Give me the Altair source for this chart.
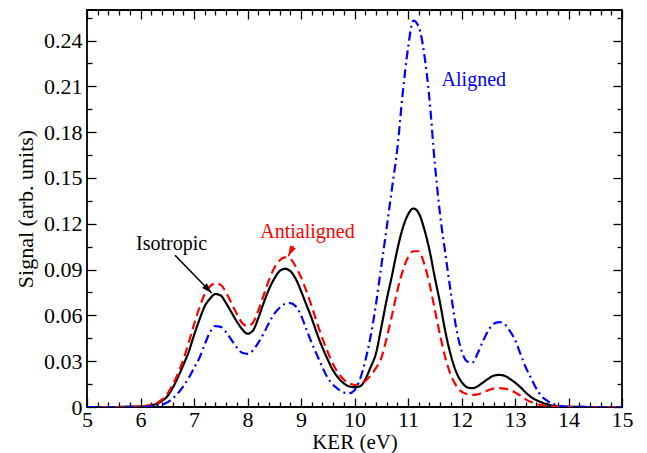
import altair as alt
import pandas as pd

# ---------------- data ----------------
ker_core = [round(6.0 + 0.1 * i, 1) for i in range(81)]   # 6.0 ... 14.0
ker = [5.0, 5.5] + ker_core + [14.5, 15.0]

isotropic_core = [
    0.0003, 0.0006, 0.0012, 0.0020, 0.0040, 0.0070, 0.0125, 0.0195, 0.0275, 0.0360,
    0.0470, 0.0570, 0.0660, 0.0710, 0.0740, 0.0730, 0.0680, 0.0620, 0.0560, 0.0510,
    0.0480, 0.0500, 0.0580, 0.0680, 0.0770, 0.0840, 0.0890, 0.0905, 0.0890, 0.0840,
    0.0760, 0.0670, 0.0580, 0.0480, 0.0390, 0.0310, 0.0240, 0.0190, 0.0155, 0.0135,
    0.0130, 0.0135, 0.0180, 0.0260, 0.0350, 0.0520, 0.0700, 0.0860, 0.1030, 0.1170,
    0.1260, 0.1300, 0.1270, 0.1170, 0.1030, 0.0850, 0.0680, 0.0490, 0.0340, 0.0230,
    0.0165, 0.0130, 0.0123, 0.0135, 0.0160, 0.0185, 0.0205, 0.0210, 0.0205, 0.0185,
    0.0160, 0.0130, 0.0095, 0.0065, 0.0045, 0.0030, 0.0018, 0.0010, 0.0005, 0.0002,
    0.0001,
]
antialigned_core = [
    0.0003, 0.0007, 0.0014, 0.0025, 0.0048, 0.0085, 0.0145, 0.0220, 0.0310, 0.0420,
    0.0540, 0.0650, 0.0740, 0.0790, 0.0810, 0.0800, 0.0750, 0.0680, 0.0610, 0.0550,
    0.0530, 0.0550, 0.0630, 0.0730, 0.0830, 0.0910, 0.0960, 0.0980, 0.0970, 0.0920,
    0.0850, 0.0760, 0.0660, 0.0550, 0.0450, 0.0360, 0.0280, 0.0220, 0.0180, 0.0155,
    0.0145, 0.0150, 0.0170, 0.0205, 0.0255, 0.0320, 0.0450, 0.0600, 0.0760, 0.0890,
    0.0980, 0.1020, 0.1020, 0.0940, 0.0810, 0.0640, 0.0470, 0.0320, 0.0210, 0.0140,
    0.0100, 0.0085, 0.0079, 0.0083, 0.0095, 0.0110, 0.0120, 0.0123, 0.0120, 0.0112,
    0.0095, 0.0075, 0.0050, 0.0033, 0.0020, 0.0012, 0.0007, 0.0004, 0.0002, 0.0001,
    0.0000,
]
aligned_core = [
    0.0001, 0.0002, 0.0004, 0.0008, 0.0015, 0.0030, 0.0055, 0.0090, 0.0135, 0.0190,
    0.0255, 0.0320, 0.0410, 0.0490, 0.0530, 0.0525, 0.0490, 0.0440, 0.0390, 0.0355,
    0.0348, 0.0370, 0.0420, 0.0480, 0.0550, 0.0610, 0.0650, 0.0675, 0.0680, 0.0660,
    0.0600, 0.0510, 0.0420, 0.0340, 0.0260, 0.0190, 0.0145, 0.0115, 0.0095, 0.0090,
    0.0110, 0.0180, 0.0300, 0.0460, 0.0670, 0.0920, 0.1170, 0.1430, 0.1690, 0.2050,
    0.2350, 0.2530, 0.2490, 0.2320, 0.2020, 0.1600, 0.1260, 0.1000, 0.0750, 0.0520,
    0.0370, 0.0300, 0.0290, 0.0350, 0.0430, 0.0500, 0.0545, 0.0556, 0.0545, 0.0500,
    0.0440, 0.0350, 0.0260, 0.0190, 0.0120, 0.0070, 0.0042, 0.0022, 0.0010, 0.0004,
    0.0002,
]
isotropic = [0.0, 0.0] + isotropic_core + [0.0, 0.0]
antialigned = [0.0, 0.0] + antialigned_core + [0.0, 0.0]
aligned = [0.0, 0.0] + aligned_core + [0.0, 0.0]

series_names = ["Isotropic", "Antialigned", "Aligned"]
series_colors = ["#000000", "#ff0000", "#0000ff"]
series_dashes = [[1, 0], [9, 5], [9, 4, 2, 4]]

x_major = list(range(5, 16))
x_minor = [v / 5 for v in range(25, 76) if v % 5]
y_major = [round(0.03 * i, 2) for i in range(9)]
y_minor = [round(0.015 + 0.03 * i, 3) for i in range(9)]

# annotations
ann_labels = ["Isotropic", "Antialigned", "Aligned"]
ann_x = [6.58, 9.12, 12.23]
ann_y = [0.1030, 0.1108, 0.2104]
ann_colors = ["#000000", "#ff0000", "#0000ff"]

arrow_x = [6.645, 8.856]
arrow_y = [0.0994, 0.1053]
arrow_x2 = [7.33, 8.763]
arrow_y2 = [0.0747, 0.0988]
arrow_angle = [135.7, 206.6]
arrow_colors = ["#000000", "#ff0000"]

# ---------------- tables ----------------
rows = []
for name, vals in zip(series_names, [isotropic, antialigned, aligned]):
    for k, v in zip(ker, vals):
        rows.append({"ker": k, "signal": v, "series": name})
df = pd.DataFrame(rows)

ann_df = pd.DataFrame({"label": ann_labels, "x": ann_x, "y": ann_y, "c": ann_colors})
arr_df = pd.DataFrame({"x": arrow_x, "y": arrow_y, "x2": arrow_x2, "y2": arrow_y2,
                       "a": arrow_angle, "c": arrow_colors})

FONT = "Liberation Serif, Times New Roman, Times, serif"
xscale = alt.Scale(domain=[5, 15], nice=False, zero=False)
yscale = alt.Scale(domain=[0, 0.26], nice=False)

common = dict(grid=False, domain=False, tickColor="black", tickWidth=1.3,
              labelFont=FONT, titleFont=FONT, labelColor="black", titleColor="black",
              labelFlush=False, labelOverlap=False, labelBound=False)


def tick_axis(orient, values, size, labels=False, **kw):
    return alt.Axis(orient=orient, values=values, tickSize=size, offset=-size,
                    labels=labels, **{**common, **kw})


# main lines with labelled bottom/left axes
lines = alt.Chart(df).mark_line(strokeWidth=2.2, interpolate="monotone", clip=True).encode(
    x=alt.X("ker:Q", scale=xscale,
            axis=tick_axis("bottom", x_major, 9, labels=True, labelFontSize=22,
                           labelPadding=2, title="KER (eV)", titleFontSize=21,
                           titleFontWeight="normal", titlePadding=1)),
    y=alt.Y("signal:Q", scale=yscale,
            axis=tick_axis("left", y_major, 9, labels=True, labelFontSize=22,
                           labelPadding=5,
                           labelExpr="datum.value == 0 ? '0' : format(datum.value, '.2f')",
                           title="Signal (arb. units)", titleFontSize=22,
                           titleFontWeight="normal", titlePadding=6)),
    color=alt.Color("series:N", scale=alt.Scale(domain=series_names, range=series_colors),
                    legend=None),
    strokeDash=alt.StrokeDash("series:N",
                              scale=alt.Scale(domain=series_names, range=series_dashes),
                              legend=None),
    order=alt.Order("ker:Q"),
)


def ghost(xaxis, yaxis):
    return alt.Chart(df).mark_line(opacity=0).encode(
        x=alt.X("ker:Q", scale=xscale, axis=xaxis),
        y=alt.Y("signal:Q", scale=yscale, axis=yaxis),
        detail="series:N",
    )


g1 = ghost(tick_axis("bottom", x_minor, 5, title=None), tick_axis("left", y_minor, 5, title=None))
g2 = ghost(tick_axis("top", x_major, 9, title=None), tick_axis("right", y_major, 9, title=None))
g3 = ghost(tick_axis("top", x_minor, 5, title=None), tick_axis("right", y_minor, 5, title=None))

texts = alt.Chart(ann_df).mark_text(font=FONT, fontSize=20, align="center",
                                    baseline="alphabetic").encode(
    x=alt.X("x:Q", scale=xscale, axis=None),
    y=alt.Y("y:Q", scale=yscale, axis=None),
    text="label:N",
    color=alt.Color("c:N", scale=None),
)

shafts = alt.Chart(arr_df).mark_rule(strokeWidth=1.6).encode(
    x=alt.X("x:Q", scale=xscale, axis=None),
    y=alt.Y("y:Q", scale=yscale, axis=None),
    x2="x2:Q",
    y2="y2:Q",
    color=alt.Color("c:N", scale=None),
)

heads = alt.Chart(arr_df).mark_point(shape="M0,0L-0.32,1L0.32,1Z", size=420, filled=True,
                                     opacity=1, strokeWidth=0).encode(
    x=alt.X("x2:Q", scale=xscale, axis=None),
    y=alt.Y("y2:Q", scale=yscale, axis=None),
    angle=alt.Angle("a:Q", scale=None),
    color=alt.Color("c:N", scale=None),
)

chart = alt.layer(g1, g2, g3, lines, shafts, heads, texts).resolve_axis(
    x="independent", y="independent"
).properties(
    width=535, height=397,
    autosize=alt.AutoSizeParams(type="none"),
    padding={"left": 87, "top": 10, "right": 25, "bottom": 46},
    background="white",
).configure_view(stroke="black", strokeWidth=1.8)

chart.save("out.html", embed_options={"renderer": "svg", "actions": False})
